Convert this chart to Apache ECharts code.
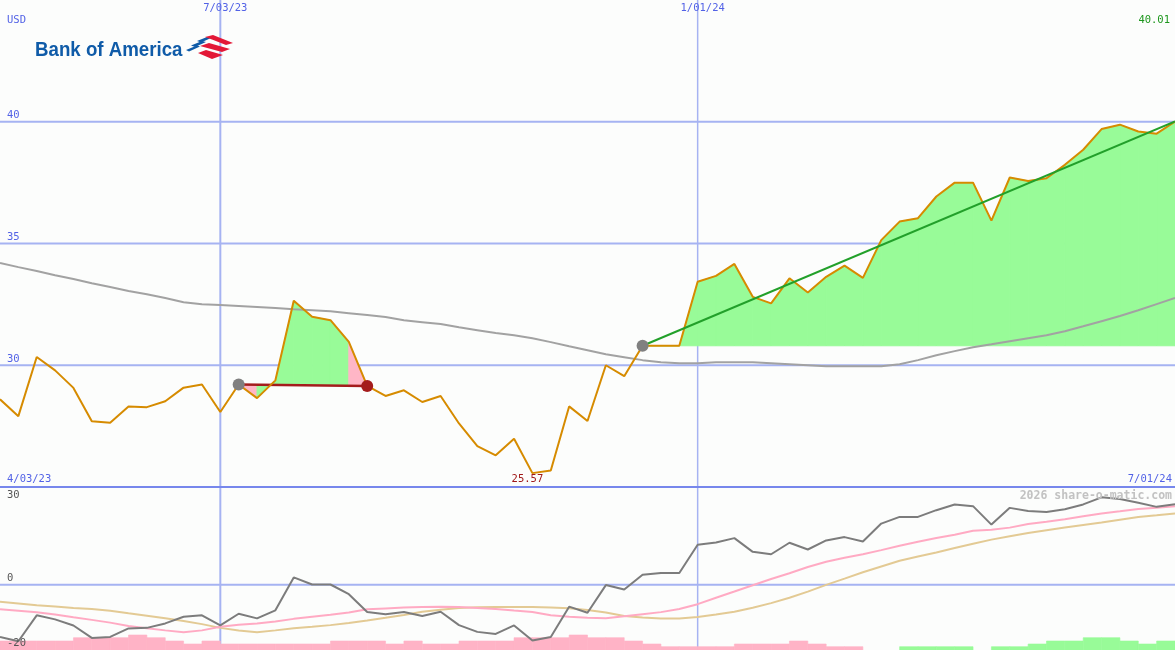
<!DOCTYPE html>
<html><head><meta charset="utf-8">
<script src="https://cdn.jsdelivr.net/npm/echarts@6/dist/echarts.min.js"></script>
<style>html,body{margin:0;padding:0;background:#fcfdfc}#c{width:1175px;height:650px}</style>
</head><body><div id="c"></div>
<script>
// ---------- DATA (weekly points, index 0 .. 64) ----------
const price = [28.60, 27.91, 30.34, 29.79, 29.07, 27.70, 27.64, 28.31, 28.28, 28.52,
  29.08, 29.21, 28.08, 29.21, 28.65, 29.38, 32.65, 31.99, 31.85, 30.96,
  29.15, 28.74, 28.97, 28.49, 28.74, 27.61, 26.68, 26.30, 26.98, 25.57,
  25.68, 28.31, 27.71, 30.00, 29.55, 30.80, 30.80, 30.80, 33.43, 33.67,
  34.16, 32.81, 32.54, 33.57, 32.99, 33.63, 34.09, 33.59, 35.14, 35.90,
  36.04, 36.93, 37.50, 37.50, 35.94, 37.71, 37.57, 37.68, 38.23, 38.85,
  39.70, 39.88, 39.60, 39.51, 40.01];
const longMA = [34.20, 34.03, 33.87, 33.70, 33.54, 33.37, 33.21, 33.05, 32.92, 32.76,
  32.59, 32.51, 32.47, 32.43, 32.39, 32.35, 32.30, 32.26, 32.22, 32.14,
  32.06, 31.98, 31.85, 31.77, 31.69, 31.56, 31.44, 31.32, 31.23, 31.11,
  30.95, 30.78, 30.62, 30.45, 30.33, 30.21, 30.12, 30.08, 30.08, 30.12,
  30.12, 30.12, 30.08, 30.04, 30.00, 29.96, 29.96, 29.96, 29.96, 30.04,
  30.21, 30.41, 30.58, 30.74, 30.86, 30.99, 31.11, 31.23, 31.40, 31.60,
  31.81, 32.02, 32.26, 32.51, 32.76];
const oscLine = [-15.99, -17.32, -9.37, -10.61, -12.47, -16.30, -15.99, -13.39, -13.21, -11.85,
  -9.81, -9.37, -12.47, -8.88, -10.30, -7.83, 2.26, 0.09, 0.09, -2.88,
  -8.35, -9.06, -8.35, -9.59, -8.26, -12.37, -14.44, -15.06, -12.47, -17.10,
  -15.99, -6.71, -8.57, -0.09, -1.45, 3.09, 3.62, 3.62, 12.28, 12.99,
  14.32, 10.11, 9.37, 12.90, 10.83, 13.61, 14.63, 13.30, 18.78, 20.82,
  20.82, 22.89, 24.65, 24.13, 18.47, 23.60, 22.67, 22.36, 23.20, 24.65,
  26.82, 26.29, 25.15, 23.91, 24.74];
const oscFast = [-7.52, -7.98, -8.44, -9.12, -9.96, -10.76, -11.60, -12.62, -13.36, -13.98,
  -14.54, -13.98, -12.90, -12.22, -11.85, -11.26, -10.45, -9.77, -9.16, -8.51,
  -7.52, -7.24, -6.99, -6.80, -6.74, -6.80, -7.11, -7.42, -7.92, -8.35,
  -9.37, -9.77, -10.14, -10.24, -9.68, -9.03, -8.38, -7.42, -5.94, -3.96,
  -2.07, -0.15, 1.79, 3.53, 5.44, 7.05, 8.32, 9.37, 10.64, 12.00,
  13.21, 14.35, 15.37, 16.55, 16.92, 17.54, 18.68, 19.36, 20.10, 21.00,
  21.87, 22.55, 23.26, 23.66, 24.13];
const oscSlow = [-5.17, -5.72, -6.28, -6.65, -7.08, -7.42, -7.95, -8.72, -9.46, -10.27,
  -11.13, -12.06, -13.21, -14.04, -14.54, -13.98, -13.30, -12.84, -12.37, -11.69,
  -10.92, -10.14, -9.28, -8.26, -7.64, -7.08, -6.90, -6.84, -6.80, -6.80,
  -6.96, -7.21, -7.73, -8.51, -9.59, -10.02, -10.30, -10.36, -9.90, -9.12,
  -8.26, -7.02, -5.63, -3.96, -2.10, -0.03, 1.89, 3.84, 5.63, 7.36,
  8.66, 9.90, 11.29, 12.62, 13.86, 14.91, 15.90, 16.76, 17.60, 18.37,
  19.11, 19.98, 20.78, 21.31, 21.87];
const histo = [-2.76, -2.76, -2.76, -2.76, -3.77, -3.77, -3.77, -4.60, -3.77, -2.76,
  -1.84, -2.76, -1.84, -1.84, -1.84, -1.84, -1.84, -1.84, -2.76, -2.76,
  -2.76, -1.84, -2.76, -1.84, -1.84, -2.76, -2.76, -2.76, -3.77, -3.77,
  -3.77, -4.60, -3.77, -3.77, -2.76, -1.84, -1.01, -1.01, -1.01, -1.01,
  -1.84, -1.84, -1.84, -2.76, -1.84, -1.01, -1.01, 0, 0, 1.01,
  1.01, 1.01, 1.01, 0, 1.01, 1.01, 1.84, 2.76, 2.76, 3.77,
  3.77, 2.76, 1.84, 2.76];
const mainTicks = [30, 35, 40];
const mainTickLabels = ['30', '35', '40'];
const lowerTicks = [30, 0, -20];
const lowerTickLabels = ['30', '0', '-20'];
const lowerGridTicks = [0];
const dateTickIdx = [12, 38];
const dateTickLabels = ['7/03/23', '1/01/24'];
const rangeLabels = ['4/03/23', '7/01/24'];
const currencyLabel = 'USD';
const trade1 = {start: 13, end: 20};
const trade1PinkSegs = [13, 19];
const trade2 = {start: 35, end: 64};
const lowIdx = 29;
const lowLabel = '25.57';
const lastLabel = '40.01';
const brandText = 'Bank of America';
const watermark = '2026 share-o-matic.com';

// ---------- STYLE ----------
const ORANGE = '#d68b00', GRAY = '#a2a2a2', GRIDC = '#a6b3f2', SEP = '#7787ec';
const FILLG = '#98fb98', FILLP = '#ffb6c6', LBLUE = '#5262e6';
const MONO = '"DejaVu Sans Mono", monospace';
const XMIN = 0, XMAX = 64;

const pts = a => a.map((v, i) => [i, v]);
const t1Base = i => price[trade1.start] + (price[trade1.end] - price[trade1.start]) * (i - trade1.start) / (trade1.end - trade1.start);
const t2Base = () => price[trade2.start];

function fillRender(baseFn, colorFn) {
  return function (params, api) {
    const i = api.value(0);
    const a = api.coord([i, price[i]]), b = api.coord([i + 1, price[i + 1]]);
    const c = api.coord([i + 1, baseFn(i + 1)]), d = api.coord([i, baseFn(i)]);
    const col = colorFn(i);
    return {type: 'polygon', shape: {points: [a, b, c, d]}, style: {fill: col, stroke: col, lineWidth: 1}};
  };
}
const seg1 = [], seg2 = [];
for (let i = trade1.start; i < trade1.end; i++) seg1.push([i, price[i]]);
for (let i = trade2.start; i < trade2.end; i++) seg2.push([i, price[i]]);

// grid lines drawn as custom series so they sit beneath the fills
function hGrid(xi, yi, values, color, width, z) {
  return {type: 'custom', xAxisIndex: xi, yAxisIndex: yi, z: z, silent: true, clip: false,
    data: values.map(v => [XMIN, v]),
    renderItem: function (params, api) {
      const v = api.value(1);
      const p0 = api.coord([XMIN, v]), p1 = api.coord([XMAX, v]);
      return {type: 'line', shape: {x1: p0[0], y1: p0[1], x2: p1[0], y2: p1[1]}, style: {stroke: color, lineWidth: width}};
    }};
}
function vGrid(xi, yi, ymin, ymax, widths) {
  return {type: 'custom', xAxisIndex: xi, yAxisIndex: yi, z: 0, silent: true,
    data: dateTickIdx.map((d, k) => [d, ymin, k]),
    renderItem: function (params, api) {
      const x = api.value(0), k = api.value(2);
      const p0 = api.coord([x, ymin]), p1 = api.coord([x, ymax]);
      return {type: 'line', shape: {x1: p0[0], y1: p0[1], x2: p1[0], y2: p1[1]}, style: {stroke: GRIDC, lineWidth: widths[k]}};
    }};
}

const option = {
  backgroundColor: '#fcfdfc',
  animation: false,
  grid: [
    {left: 0, right: 0, top: 0, height: 487},
    {left: 0, right: 0, top: 487, height: 163}
  ],
  xAxis: [
    {type: 'value', gridIndex: 0, min: XMIN, max: XMAX, show: false},
    {type: 'value', gridIndex: 1, min: XMIN, max: XMAX, show: false}
  ],
  yAxis: [
    {type: 'value', gridIndex: 0, min: 25, max: 45, show: false},
    {type: 'value', gridIndex: 1, min: -20, max: 30, show: false}
  ],
  series: [
    hGrid(0, 0, mainTicks, GRIDC, 2, 0),
    vGrid(0, 0, 25, 45, [2, 1.5]),
    hGrid(1, 1, lowerGridTicks, GRIDC, 2, 0),
    vGrid(1, 1, -20, 30, [2, 1.5]),
    {type: 'custom', xAxisIndex: 0, yAxisIndex: 0, z: 1, silent: true, data: seg1,
      renderItem: fillRender(t1Base, i => trade1PinkSegs.includes(i) ? FILLP : FILLG)},
    {type: 'custom', xAxisIndex: 0, yAxisIndex: 0, z: 1, silent: true, data: seg2,
      renderItem: fillRender(t2Base, () => FILLG)},
    {type: 'line', xAxisIndex: 0, yAxisIndex: 0, data: pts(longMA), z: 2, symbol: 'none',
      lineStyle: {color: GRAY, width: 2}},
    {type: 'line', xAxisIndex: 0, yAxisIndex: 0, z: 3, symbol: 'none',
      data: [[trade1.start, price[trade1.start]], [trade1.end, price[trade1.end]]],
      lineStyle: {color: '#a41c1c', width: 2.5}},
    {type: 'line', xAxisIndex: 0, yAxisIndex: 0, data: pts(price), z: 4, symbol: 'none',
      lineStyle: {color: ORANGE, width: 2}},
    {type: 'line', xAxisIndex: 0, yAxisIndex: 0, z: 5, symbol: 'none',
      data: [[trade2.start, price[trade2.start]], [trade2.end, price[trade2.end]]],
      lineStyle: {color: '#22a02a', width: 2}},
    {type: 'scatter', xAxisIndex: 0, yAxisIndex: 0, z: 6, symbolSize: 12,
      itemStyle: {color: '#808080', opacity: 1},
      data: [[trade1.start, price[trade1.start]], [trade2.start, price[trade2.start]]]},
    {type: 'scatter', xAxisIndex: 0, yAxisIndex: 0, z: 6, symbolSize: 12,
      itemStyle: {color: '#a41c1c', opacity: 1},
      data: [[trade1.end, price[trade1.end]]]},
    // lower panel
    {type: 'custom', xAxisIndex: 1, yAxisIndex: 1, z: 1, silent: true,
      data: histo.map((h, i) => [i, h]).filter(d => d[1] !== 0),
      renderItem: function (params, api) {
        const i = api.value(0), h = api.value(1);
        const p0 = api.coord([i, -20]), p1 = api.coord([i + 1, -20 + Math.abs(h)]);
        const col = h < 0 ? '#ffb3c6' : FILLG;
        return {type: 'rect', shape: {x: p0[0], y: p1[1], width: p1[0] - p0[0], height: p0[1] - p1[1] + 2},
          style: {fill: col, stroke: col, lineWidth: 0.6}};
      }},
    {type: 'line', xAxisIndex: 1, yAxisIndex: 1, data: pts(oscSlow), z: 2, symbol: 'none',
      lineStyle: {color: '#e3ca94', width: 2}},
    {type: 'line', xAxisIndex: 1, yAxisIndex: 1, data: pts(oscFast), z: 3, symbol: 'none',
      lineStyle: {color: '#ffaac3', width: 2}},
    {type: 'line', xAxisIndex: 1, yAxisIndex: 1, data: pts(oscLine), z: 4, symbol: 'none',
      lineStyle: {color: '#7c7c7c', width: 2}},
    // panel separator (bottom edge of the price panel)
    hGrid(0, 0, [25], SEP, 2, 10)
  ]
};

const chart = echarts.init(document.getElementById('c'));
chart.setOption(option);

const P = (g, v) => chart.convertToPixel({gridIndex: g}, v);
const txt = (text, x, y, align, color, size, extra) => Object.assign({
  type: 'text', x: x, y: y, silent: true, z: 50,
  style: Object.assign({text: text, fill: color, font: (size || 10.5) + 'px ' + MONO, align: align, verticalAlign: 'middle'}, extra || {})
});
const g = [];
g.push(txt(currencyLabel, 7, 20, 'left', LBLUE));
dateTickIdx.forEach((d, k) => g.push(txt(dateTickLabels[k], P(0, [d, 45])[0] + 5, 8, 'center', LBLUE)));
g.push(txt(lastLabel, 1170, 20, 'right', '#1c961c'));
mainTicks.forEach((v, k) => g.push(txt(mainTickLabels[k], 7, P(0, [0, v])[1] - 6, 'left', LBLUE)));
g.push(txt(rangeLabels[0], 7, P(0, [0, 25])[1] - 8, 'left', LBLUE));
g.push(txt(rangeLabels[1], 1172, P(0, [0, 25])[1] - 8, 'right', LBLUE));
g.push(txt(lowLabel, P(0, [lowIdx, 25])[0] - 5, P(0, [0, 25])[1] - 8, 'center', '#a01818'));
g.push(txt(lowerTickLabels[0], 7, P(1, [0, lowerTicks[0]])[1] + 8, 'left', '#555555'));
g.push(txt(lowerTickLabels[1], 7, P(1, [0, lowerTicks[1]])[1] - 7, 'left', '#555555'));
g.push(txt(lowerTickLabels[2], 7, P(1, [0, lowerTicks[2]])[1] - 7, 'left', '#555555'));
g.push(txt(watermark, 1172, 496, 'right', '#c2c2c2', 11.5, {font: 'bold 11.5px ' + MONO}));
// logo
g.push({type: 'text', x: 35, y: 50, scaleX: 0.89, silent: true, z: 50,
  style: {text: brandText, fill: '#0f5ba8', font: 'bold 21px "Liberation Sans", Arial, sans-serif', align: 'left', verticalAlign: 'middle'}});
const poly = (points, fill) => ({type: 'polygon', silent: true, z: 50, shape: {points: points}, style: {fill: fill}});
g.push(poly([[197, 41], [207, 37], [211, 38], [201, 42.5]], '#0f5ba8'));
g.push(poly([[191, 45.5], [202, 41], [206, 42], [195, 47]], '#0f5ba8'));
g.push(poly([[186, 50], [197, 45.5], [200, 46.5], [189, 51.5]], '#0f5ba8'));
g.push(poly([[205, 37], [213, 35], [233, 43], [226, 45], [212, 39.5]], '#e31837'));
g.push(poly([[200, 46], [209, 43], [230, 49], [222, 52]], '#e31837'));
g.push(poly([[198, 53], [206, 50], [223, 55], [212, 59]], '#e31837'));
chart.setOption({graphic: g});
</script>
</body></html>
